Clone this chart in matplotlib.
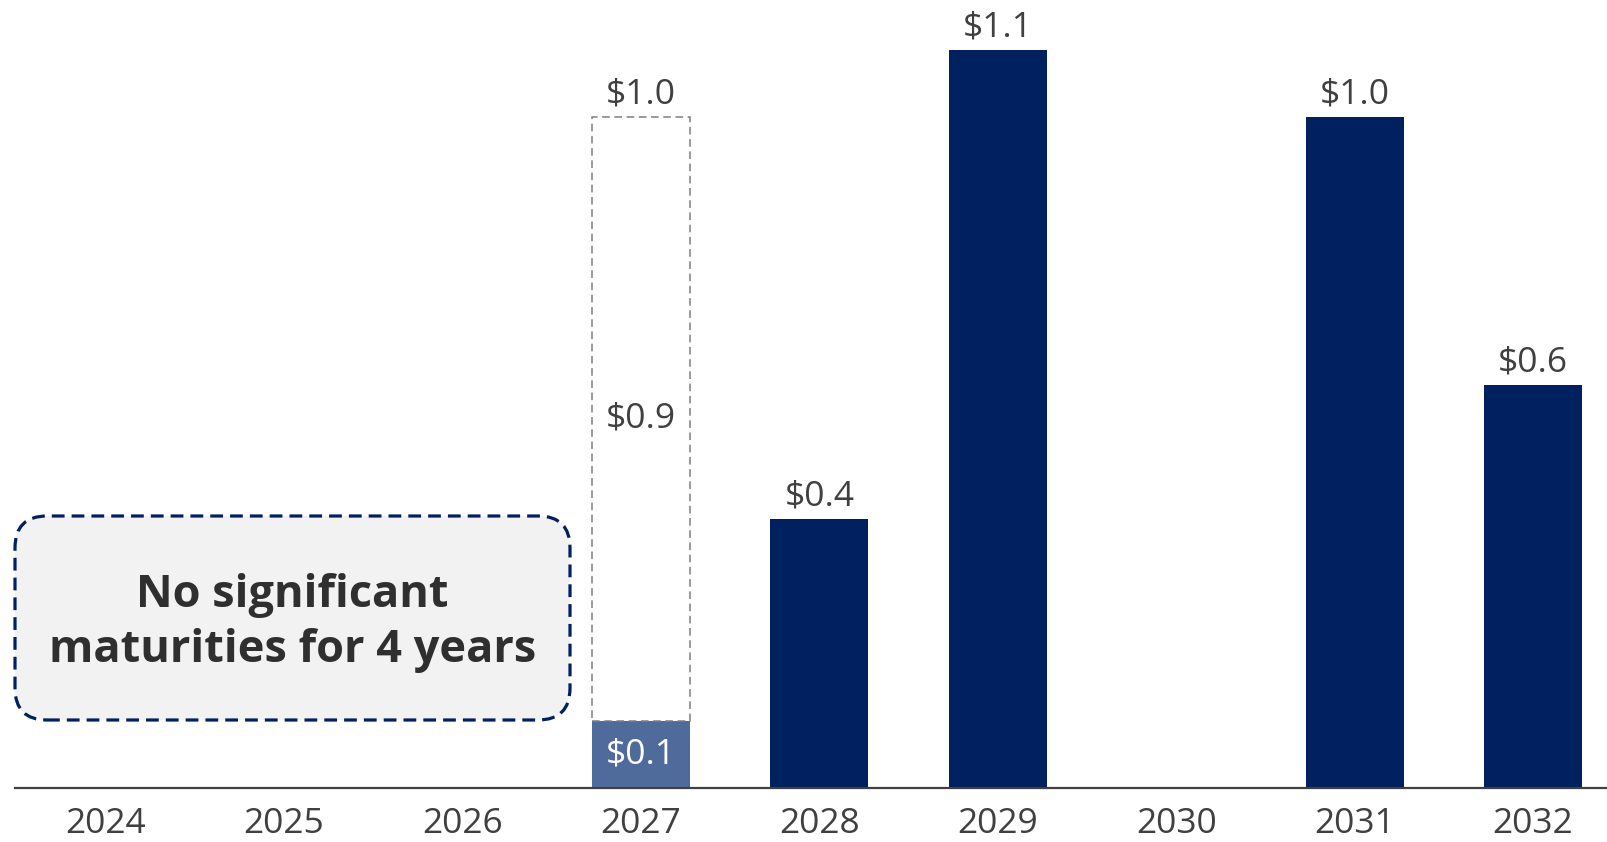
import matplotlib
matplotlib.use("Agg")
import matplotlib.pyplot as plt
from matplotlib.patches import FancyBboxPatch, Rectangle
from matplotlib.transforms import IdentityTransform

years = ["2024", "2025", "2026", "2027", "2028", "2029", "2030", "2031", "2032"]
maturities = [0, 0, 0, 0.1, 0.4, 1.1, 0, 1.0, 0.6]
labels = ["", "", "", "$0.1", "$0.4", "$1.1", "", "$1.0", "$0.6"]
proforma_year = "2027"
proforma_extra = 0.9
proforma_total_label = "$1.0"
proforma_extra_label = "$0.9"
box_text = "No significant\nmaturities for 4 years"

NAVY = "#002060"
LIGHT = "#4F6B9B"
TXT = "#404040"

plt.rcParams['font.family'] = ['Open Sans', 'DejaVu Sans']

W, H = 1608, 842
fig = plt.figure(figsize=(W / 100, H / 100), dpi=100)
ax = fig.add_axes([15 / W, 54.4 / H, 1 - 15 / W, 787.6 / H])

x = list(range(len(years)))
bw = 0.55
colors = [LIGHT if y == proforma_year else NAVY for y in years]
ax.bar(x, maturities, width=bw, color=colors, zorder=2)

FS = 25.5
for i, (v, lab) in enumerate(zip(maturities, labels)):
    if not lab:
        continue
    if years[i] == proforma_year:
        ax.text(i, v / 2, lab, ha="center", va="center", color="white", fontsize=FS)
    else:
        ax.annotate(lab, (i, v), xytext=(0, 4), textcoords="offset points",
                    ha="center", va="bottom", color=TXT, fontsize=FS)

# pro-forma dashed outline
pi = years.index(proforma_year)
base = maturities[pi]
ax.add_patch(Rectangle((pi - bw / 2, base), bw, proforma_extra, fill=False,
                       edgecolor="#7F7F7F", linewidth=1.1, linestyle=(0, (5, 3)), zorder=3))
ax.text(pi, base + proforma_extra / 2, proforma_extra_label, ha="center", va="center",
        color=TXT, fontsize=FS)
ax.annotate(proforma_total_label, (pi, base + proforma_extra), xytext=(0, 4),
            textcoords="offset points", ha="center", va="bottom", color=TXT, fontsize=FS)

ax.set_xlim(-0.508, 8.42)
ax.set_ylim(0, 1.174)
ax.set_xticks(x)
ax.set_xticklabels(years, fontsize=FS, color=TXT)
ax.tick_params(axis="x", length=0, pad=14)
ax.set_yticks([])
for s in ["top", "right", "left"]:
    ax.spines[s].set_visible(False)
ax.spines["bottom"].set_color(TXT)
ax.spines["bottom"].set_linewidth(1.6)
ax.patch.set_alpha(0)

# callout box (pixel coordinates)
bx0, bx1, by0, by1 = 15, 570, 122, 326
box = FancyBboxPatch((bx0, by0), bx1 - bx0, by1 - by0,
                     boxstyle="round,pad=0,rounding_size=32",
                     facecolor="#F2F2F2", edgecolor=NAVY, linewidth=2.3,
                     linestyle=(0, (4, 2.2)), transform=IdentityTransform(), zorder=5)
fig.add_artist(box)
fig.text((bx0 + bx1) / 2 / W, 219 / H, box_text, ha="center", va="center",
         fontsize=32.5, fontweight="bold", color="#2F2F2F", linespacing=1.32, zorder=6)

fig.savefig("out.png", dpi=100)
